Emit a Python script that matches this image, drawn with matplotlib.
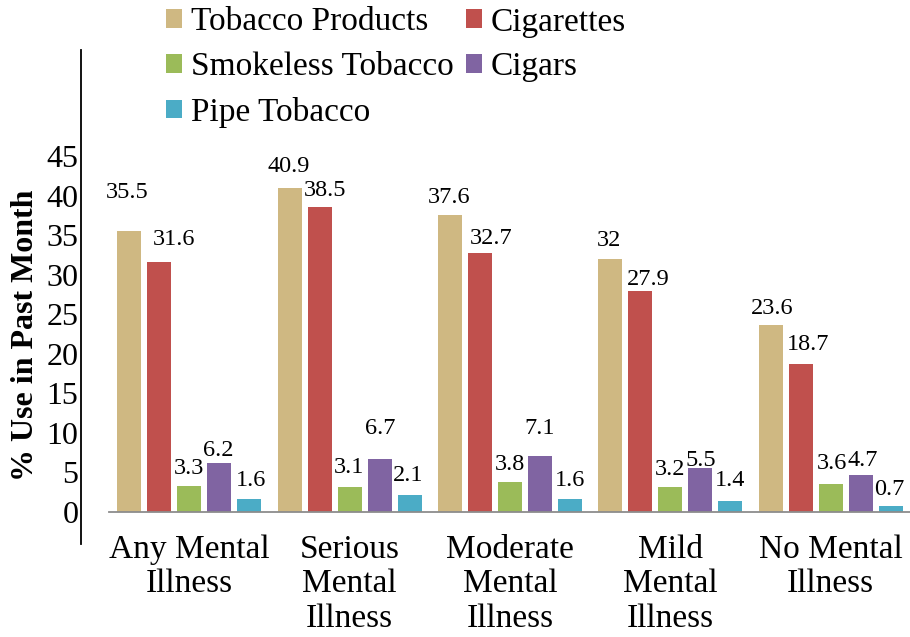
import matplotlib
matplotlib.use("Agg")
import matplotlib.pyplot as plt
from matplotlib.lines import Line2D
import numpy as np

plt.rcParams['font.family'] = ['Liberation Serif', 'DejaVu Serif']

categories = ["Any Mental\nIllness", "Serious\nMental\nIllness", "Moderate\nMental\nIllness",
              "Mild\nMental\nIllness", "No Mental\nIllness"]
series_names = ["Tobacco Products", "Cigarettes", "Smokeless Tobacco", "Cigars", "Pipe Tobacco"]
tobacco = [35.5, 40.9, 37.6, 32.0, 23.6]
cigarettes = [31.6, 38.5, 32.7, 27.9, 18.7]
smokeless = [3.3, 3.1, 3.8, 3.2, 3.6]
cigars = [6.2, 6.7, 7.1, 5.5, 4.7]
pipe = [1.6, 2.1, 1.6, 1.4, 0.7]
yticks = [0, 5, 10, 15, 20, 25, 30, 35, 40, 45]

colors = ["#CFB882", "#C0504D", "#9BBB59", "#8064A2", "#4BACC6"]

# value-label offsets (pixels): horizontal shift, height of label centre above bar top
label_dx = [[-2, -1, -1, -1, 1], [15, 5, 11, 8, 7], [0, -1, 0, 0, 1], [-1, 1, 0, 0, 2], [2, -1, 0, 0, -1]]
label_dy = [[41, 24, 20, 21, 19], [25, 19, 17, 14, 22], [20, 22, 20, 20, 23], [15, 33, 30, 10, 17], [21, 22, 21, 23, 19]]

W, H = 910, 637
fig = plt.figure(figsize=(W / 100, H / 100), dpi=100)
ax = fig.add_axes([109 / W, 1 - 512 / H, 802 / W, 356 / H])

series = [tobacco, cigarettes, smokeless, cigars, pipe]
x = np.arange(len(categories))
stride = 0.187
bw = 0.149
px2pt = 72 / 100
handles = []
for k, (vals, name, col) in enumerate(zip(series, series_names, colors)):
    xs = x + (k - 2) * stride
    b = ax.bar(xs, vals, width=bw, color=col, label=name, zorder=2)
    handles.append(b)
    for i, (xi, v) in enumerate(zip(xs, vals)):
        ax.annotate(f"{v:g}", xy=(xi, v), xytext=(label_dx[k][i] * px2pt, (label_dy[k][i] - 8) * px2pt),
                    textcoords="offset points", ha="center", va="baseline", fontsize=17.5,
                    annotation_clip=False, clip_on=False)

ax.set_xlim(-0.5, 4.5)
ax.set_ylim(0, 45)
ax.set_yticks(yticks)
ax.set_yticklabels([str(t) for t in yticks], fontsize=23)
ax.set_xticks(x)
ax.set_xticklabels(categories, fontsize=24, linespacing=1.18)
ax.tick_params(axis='y', length=0, pad=22)
ax.tick_params(axis='x', length=0, pad=16)
for s in ['top', 'right', 'left']:
    ax.spines[s].set_visible(False)
ax.spines['bottom'].set_color('#8C8C8C')
ax.spines['bottom'].set_linewidth(1.3)

fig.add_artist(Line2D([81 / W, 81 / W], [1 - 50 / H, 1 - 544 / H], color='black', lw=1.3,
                      transform=fig.transFigure))

fig.text(26 / W, 1 - 335 / H, "% Use in Past Month", rotation=90, ha='center', va='center',
         fontsize=23, fontweight='bold')

order = [0, 2, 4, 1, 3]
leg = fig.legend([handles[i] for i in order], [series_names[i] for i in order], ncol=2,
                 loc='upper left', bbox_to_anchor=(166 / W, 1 - 7 / H), frameon=False,
                 fontsize=24, handlelength=0.48, handleheight=0.48, handletextpad=0.27,
                 columnspacing=0.36, labelspacing=0.43, borderpad=0, borderaxespad=0)

fig.savefig("out.png", dpi=100)
